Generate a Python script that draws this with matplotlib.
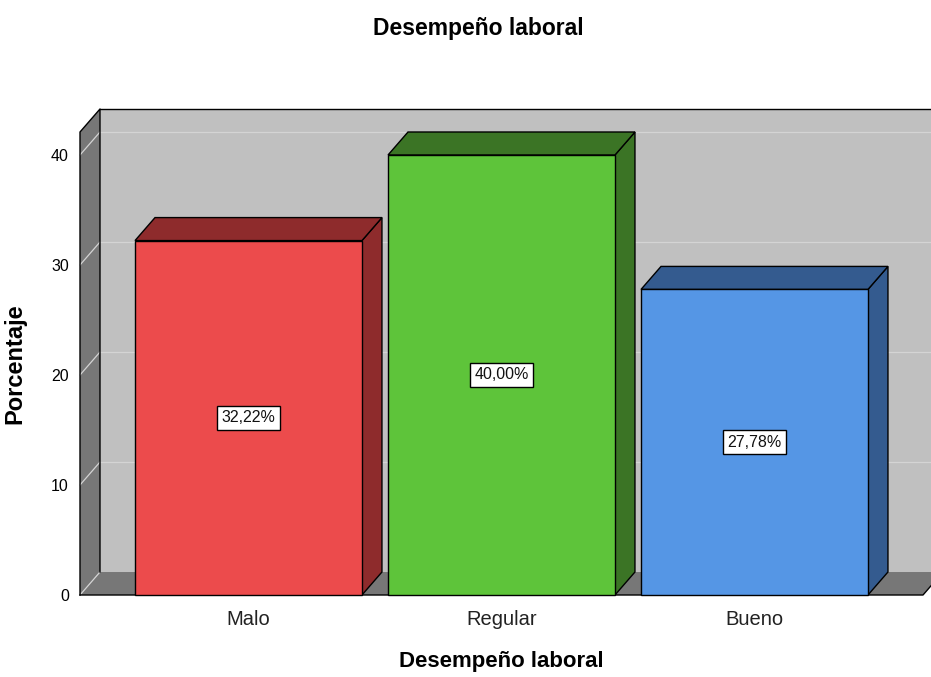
import numpy as np
import matplotlib
matplotlib.use('Agg')
import matplotlib.pyplot as plt
from matplotlib.patches import Polygon

plt.rcParams['font.family'] = ['Liberation Sans', 'DejaVu Sans']

categories = ['Malo', 'Regular', 'Bueno']
percentages = [32.22, 40.00, 27.78]
front_colors = ['#ec4b4c', '#5ec43a', '#5596e5']
shade_colors = ['#8e2b2c', '#3b7425', '#345b8f']
y_ticks = [0, 10, 20, 30, 40]

XMIN, XMAX = -0.666, 2.666
YMAX = 42.09
DX, DY = 0.079, 2.09      # depth offset of the 3D box in data units
BAR_W = 0.897

WALL = '#c0c0c0'
SIDE = '#777777'
GRID = '#d4d4d4'


def poly(ax, pts, fc, lw=1.0, ec='black', z=1):
    p = Polygon(pts, closed=True, facecolor=fc, edgecolor=ec, linewidth=lw,
                clip_on=False, zorder=z, joinstyle='miter')
    ax.add_patch(p)


fig = plt.figure(figsize=(9.31, 6.77), dpi=100)
ax = fig.add_axes([80 / 931, 82 / 677, 843 / 931, 463 / 677])
ax.set_xlim(XMIN, XMAX)
ax.set_ylim(0, YMAX)
ax.patch.set_visible(False)
for s in ax.spines.values():
    s.set_visible(False)

# back wall
poly(ax, [(XMIN + DX, DY), (XMAX + DX + 0.2, DY), (XMAX + DX + 0.2, YMAX + DY),
          (XMIN + DX, YMAX + DY)], WALL, lw=0, z=1)
ax.plot([XMIN + DX, XMAX + DX + 0.2], [YMAX + DY, YMAX + DY], color='black',
        lw=1.0, clip_on=False, zorder=3)
# floor
poly(ax, [(XMIN, 0), (XMAX, 0), (XMAX + DX, DY), (XMIN + DX, DY)], SIDE, lw=0, z=1)
# left wall
poly(ax, [(XMIN, 0), (XMIN + DX, DY), (XMIN + DX, YMAX + DY), (XMIN, YMAX)],
     SIDE, lw=0, z=1)

# gridlines on both walls
for v in y_ticks:
    ax.plot([XMIN, XMIN + DX], [v, v + DY], color=GRID, lw=0.9,
            clip_on=False, zorder=2)
    if v > 0:
        ax.plot([XMIN + DX, XMAX + DX + 0.2], [v + DY, v + DY], color=GRID,
                lw=0.9, clip_on=False, zorder=2)

# wall outlines
ax.plot([XMIN, XMIN, XMIN + DX, XMIN + DX], [0, YMAX, YMAX + DY, DY],
        color='black', lw=1.0, clip_on=False, zorder=3)
ax.plot([XMIN, XMAX, XMAX + DX], [0, 0, DY], color='black', lw=1.0,
        clip_on=False, zorder=3)

# 3D bars
for i, (v, fc, sc) in enumerate(zip(percentages, front_colors, shade_colors)):
    x0, x1 = i - BAR_W / 2, i + BAR_W / 2
    poly(ax, [(x1, 0), (x1 + DX, DY), (x1 + DX, v + DY), (x1, v)], sc, z=4)
    poly(ax, [(x0, v), (x1, v), (x1 + DX, v + DY), (x0 + DX, v + DY)], sc, z=4)
    poly(ax, [(x0, 0), (x1, 0), (x1, v), (x0, v)], fc, z=5)
    ax.text(i, v / 2, f'{v:.2f}%'.replace('.', ','), ha='center', va='center',
            fontsize=11.5, zorder=6, color='#111111',
            bbox=dict(boxstyle='square,pad=0.28', facecolor='white',
                      edgecolor='black', linewidth=1.0))

ax.set_yticks(y_ticks)
ax.set_yticklabels([str(t) for t in y_ticks], fontsize=11.5)
ax.set_xticks(range(len(categories)))
ax.set_xticklabels(categories, fontsize=14.5, color='#222222')
ax.tick_params(axis='y', length=0, pad=8)
ax.tick_params(axis='x', length=0, pad=11)

ax.set_xlabel('Desempeño laboral', fontsize=16, fontweight='bold', labelpad=16)
ax.set_ylabel('Porcentaje', fontsize=17, fontweight='bold', labelpad=18)
fig.text(478 / 931, 1 - 28 / 677, 'Desempeño laboral', ha='center',
         va='center', fontsize=16.5, fontweight='bold')

fig.savefig('out.png', dpi=100)
